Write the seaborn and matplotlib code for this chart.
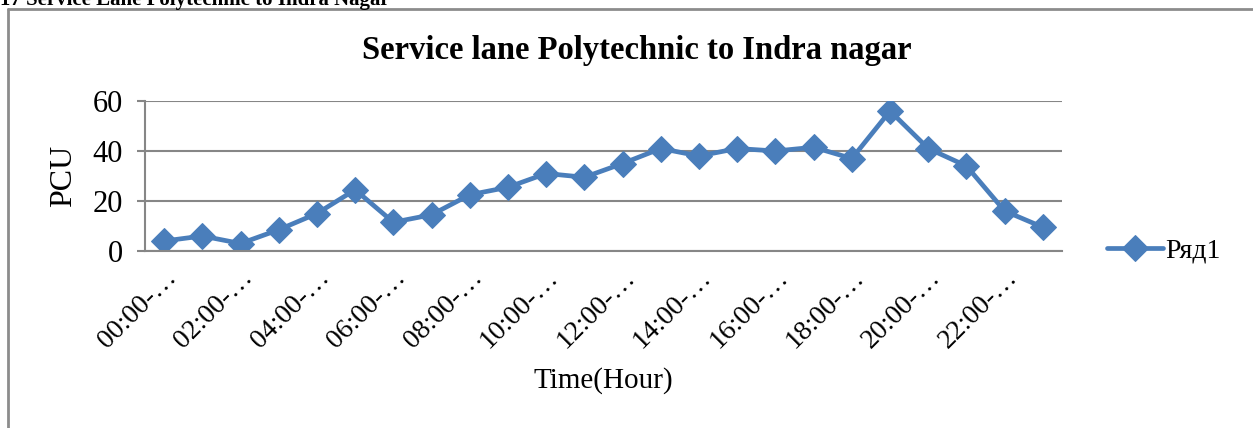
import matplotlib
matplotlib.use("Agg")
import matplotlib.pyplot as plt
import seaborn as sns
from matplotlib.lines import Line2D

# data
hours = list(range(24))
tick_labels = [f"{h:02d}:00-\u2026" if h % 2 == 0 else "" for h in hours]
pcu = [4, 6, 3, 8.5, 15, 24.5, 11.5, 14.5, 22.5, 25.5, 31, 29.5,
       35, 41, 38, 41, 40, 41.5, 37, 56, 41, 34, 16, 9.5]
series_name = "Ряд1"

sns.set_style("white")
plt.rcParams["font.family"] = ["Liberation Serif", "DejaVu Serif"]
plt.rcParams["text.color"] = "black"
plt.rcParams["axes.labelcolor"] = "black"
plt.rcParams["xtick.color"] = "black"
plt.rcParams["ytick.color"] = "black"

blue = "#4a7ebb"
gray = "#868686"

fig = plt.figure(figsize=(12.53, 4.28), dpi=100)
ax = fig.add_axes([145 / 1253, 1 - 251 / 428, (1062 - 145) / 1253, 150 / 428])

sns.lineplot(x=hours, y=pcu, ax=ax, color=blue, linewidth=3.4,
             marker="D", markersize=13, markeredgecolor=blue, label=series_name)

ax.set_xlim(-0.5, 23.5)
ax.set_ylim(0, 60)
ax.set_yticks([0, 20, 40, 60])
ax.set_xticks(hours)
ax.set_xticklabels(tick_labels, rotation=45, ha="right", rotation_mode="anchor")
ax.tick_params(axis="x", length=0, pad=10, labelsize=20)
ax.tick_params(axis="y", length=6, color=gray, width=1.5, pad=10, labelsize=22, left=True,
               labelcolor="black")
ax.yaxis.grid(True, color=gray, linewidth=1.5)
ax.set_axisbelow(True)
for side in ["top", "right"]:
    ax.spines[side].set_visible(False)
for side in ["left", "bottom"]:
    ax.spines[side].set_color(gray)
    ax.spines[side].set_linewidth(1.5)

ax.set_ylabel("PCU", fontsize=23, labelpad=10)
ax.set_xlabel("Time(Hour)", fontsize=21, labelpad=10)

# the chart title sits centred on the chart area, not on the plot area
fig.text(637 / 1253, 1 - 50 / 428, "Service lane Polytechnic to Indra nagar",
         fontsize=23.5, fontweight="bold", ha="center", va="center")

ax.legend(loc="center left", bbox_to_anchor=(1.022, 0.0), frameon=False,
          fontsize=20, handlelength=2.0, handletextpad=0.1)

# chart frame and the cut-off caption above it
fig.add_artist(Line2D([8 / 1253, 8 / 1253], [0, 1 - 9 / 428], color="#8c8c8c", linewidth=2))
fig.add_artist(Line2D([8 / 1253, 1], [1 - 9 / 428, 1 - 9 / 428], color="#8c8c8c", linewidth=2))
fig.text(0.0, 1 - 5 / 428, "17 Service Lane Polytechnic to Indra Nagar",
         fontsize=15, fontweight="bold", va="baseline", ha="left")

fig.savefig("out.png", dpi=100)
